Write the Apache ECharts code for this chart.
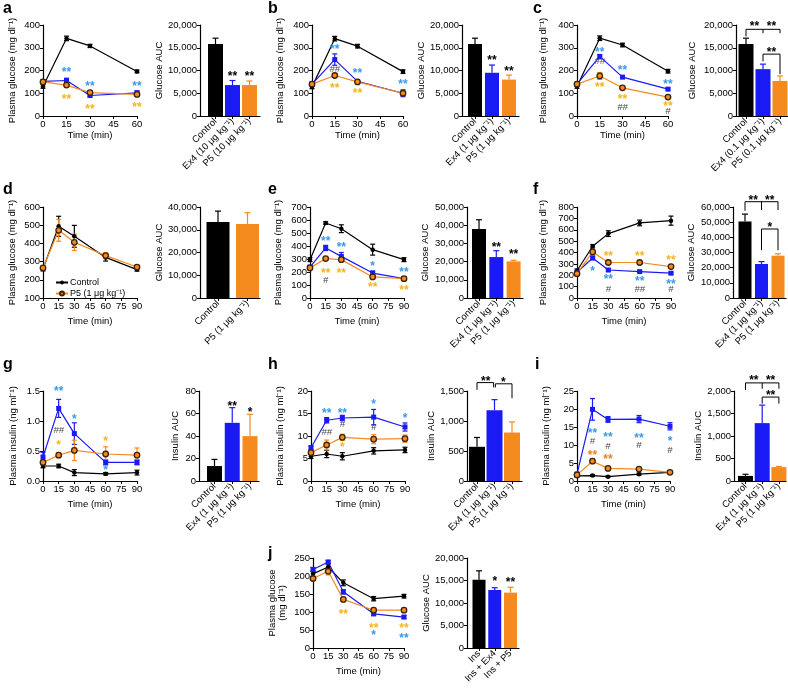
<!DOCTYPE html>
<html><head><meta charset="utf-8">
<script src="https://cdn.jsdelivr.net/npm/echarts@6/dist/echarts.min.js"></script>
<style>html,body{margin:0;padding:0;background:#fff}#main{width:788px;height:688px}</style>
</head><body><div id="main"></div>
<script>
// ================= DATA =================
const times60 = [0, 15, 30, 60];
const times90 = [0, 15, 30, 60, 90];

const catsA = ['Control', 'Ex4 (10 μg kg⁻¹)', 'P5 (10 μg kg⁻¹)'];
const catsB = ['Control', 'Ex4 (1 μg kg⁻¹)', 'P5 (1 μg kg⁻¹)'];
const catsC = ['Control', 'Ex4 (0.1 μg kg⁻¹)', 'P5 (0.1 μg kg⁻¹)'];
const catsD = ['Control', 'P5 (1 μg kg⁻¹)'];
const catsJ = ['Ins', 'Ins + Ex4', 'Ins + P5'];

// panel a
const aCtrl = [130, 341, 308, 196], aCtrlErr = [8, 10, 7, 6];
const aEx4 = [152, 156, 90, 102], aEx4Err = [5, 10, 6, 8];
const aP5 = [150, 136, 103, 95], aP5Err = [5, 10, 6, 5];
const aBar = [15800, 6800, 6800], aBarErr = [1300, 1000, 900];
const aStars = [[15, 202, '**', 'ex4'], [30, 143, '**', 'ex4'], [60, 141, '**', 'ex4'],
                [15, 85, '**', 'p5'], [30, 41, '**', 'p5'], [60, 48, '**', 'p5']];
const aBarStars = [[1, 9300, '**', 'blk'], [2, 9200, '**', 'blk']];

// panel b
const bCtrl = [128, 340, 307, 195], bCtrlErr = [8, 10, 8, 8];
const bEx4 = [140, 248, 152, 100], bEx4Err = [8, 25, 8, 15];
const bP5 = [140, 178, 150, 100], bP5Err = [5, 8, 8, 8];
const bBar = [15800, 9500, 8000], bBarErr = [1300, 1700, 1000];
const bStars = [[15, 305, '**', 'ex4'], [30, 198, '**', 'ex4'], [60, 151, '**', 'ex4'],
                [15, 132, '**', 'p5'], [30, 111, '**', 'p5'], [15, 205, '##', 'hash']];
const bBarStars = [[1, 12900, '**', 'blk'], [2, 10500, '**', 'blk']];

// panel c
const cCtrl = [130, 342, 312, 197], cCtrlErr = [8, 10, 8, 8];
const cEx4 = [140, 262, 171, 118], cEx4Err = [5, 8, 6, 5];
const cP5 = [140, 176, 124, 83], cP5Err = [5, 15, 6, 6];
const cBar = [15800, 10300, 7700], cBarErr = [1300, 1100, 1100];
const cStars = [[15, 290, '**', 'ex4'], [30, 212, '**', 'ex4'], [60, 151, '**', 'ex4'],
                [15, 136, '**', 'p5'], [30, 85, '**', 'p5'], [60, 53, '**', 'p5'],
                [15, 239, '##', 'hash'], [30, 38, '##', 'hash'], [60, 19, '#', 'hash']];
const cBarStars = [[0.5, 20300, '**', 'blk'], [1.5, 20300, '**', 'blk'], [1.5, 14500, '**', 'blk']];
const cBrackets = [[[0, 17500], [0, 19050], [2, 19050], [2, 18200]], [[1, 19050], [1, 18200]],
                   [[1, 12000], [1, 13600], [2, 13600], [2, 9200]]];

// panel d
const dCtrl = [259, 494, 439, 323, 256], dCtrlErr = [10, 55, 60, 20, 8];
const dP5 = [265, 472, 406, 333, 270], dP5Err = [8, 60, 45, 15, 8];
const dBar = [33400, 32500], dBarErr = [4800, 5000];

// panel e
const eCtrl = [295, 577, 533, 372, 295], eCtrlErr = [15, 10, 30, 42, 15];
const eEx4 = [238, 385, 320, 192, 149], eEx4Err = [12, 20, 30, 15, 10];
const eP5 = [231, 303, 295, 162, 149], eP5Err = [10, 10, 10, 8, 8];
const eBar = [37900, 22500, 20100], eBarErr = [5100, 3500, 600];
const eStars = [[15, 454, '**', 'ex4'], [30, 410, '**', 'ex4'], [60, 262, '*', 'ex4'], [90, 218, '**', 'ex4'],
                [15, 213, '**', 'p5'], [30, 213, '**', 'p5'], [60, 103, '**', 'p5'], [90, 77, '**', 'p5'],
                [15, 136, '#', 'hash']];
const eBarStars = [[1, 29500, '**', 'blk'], [2, 25200, '**', 'blk']];

// panel f
const fCtrl = [240, 455, 566, 660, 680], fCtrlErr = [15, 15, 25, 25, 40];
const fEx4 = [226, 352, 246, 232, 218], fEx4Err = [10, 15, 10, 8, 8];
const fP5 = [214, 405, 312, 312, 276], fP5Err = [10, 15, 12, 10, 10];
const fBar = [50500, 22400, 27900], fBarErr = [4800, 1600, 1300];
const fStars = [[30, 390, '**', 'p5'], [60, 390, '**', 'p5'], [90, 357, '**', 'p5'],
                [15, 255, '*', 'ex4'], [30, 185, '**', 'ex4'], [60, 167, '**', 'ex4'], [90, 147, '**', 'ex4'],
                [30, 73, '#', 'hash'], [60, 73, '##', 'hash'], [90, 73, '#', 'hash']];
const fBarStars = [[0.5, 66300, '**', 'blk'], [1.5, 66300, '**', 'blk'], [1.5, 48500, '*', 'blk']];
const fBrackets = [[[0, 57500], [0, 63500], [2, 63500], [2, 58000]], [[1, 63500], [1, 58000]],
                   [[1, 31500], [1, 45500], [2, 45500], [2, 31500]]];

// panel g
const gCtrl = [0.25, 0.25, 0.14, 0.12, 0.14], gCtrlErr = [0.03, 0.03, 0.05, 0.02, 0.04];
const gEx4 = [0.40, 1.21, 0.79, 0.31, 0.31], gEx4Err = [0.08, 0.15, 0.18, 0.04, 0.04];
const gP5 = [0.31, 0.43, 0.51, 0.45, 0.43], gP5Err = [0.04, 0.04, 0.17, 0.12, 0.12];
const gBar = [13.3, 51.7, 39.9], gBarErr = [5.9, 13.5, 19.4];
const gStars = [[15, 1.54, '**', 'ex4'], [30, 1.07, '*', 'ex4'], [60, 0.23, '*', 'ex4'],
                [15, 0.64, '*', 'p5'], [60, 0.71, '*', 'p5'], [15, 0.85, '##', 'hash']];
const gBarStars = [[1, 69, '**', 'blk'], [2, 63, '*', 'blk']];

// panel h
const hCtrl = [5.5, 6.0, 5.5, 6.7, 6.9], hCtrlErr = [0.5, 0.8, 0.8, 0.7, 0.6];
const hEx4 = [7.4, 13.5, 14.0, 14.2, 12.0], hEx4Err = [0.4, 0.6, 0.6, 1.7, 0.9];
const hP5 = [6.3, 8.0, 9.7, 9.3, 9.4], hP5Err = [0.3, 1.1, 0.7, 1.0, 0.8];
const hBar = [570, 1179, 808], hBarErr = [155, 177, 177];
const hStars = [[15, 15.7, '**', 'ex4'], [30, 15.7, '**', 'ex4'], [60, 17.6, '*', 'ex4'], [90, 14.6, '*', 'ex4'],
                [30, 8.0, '*', 'p5'], [15, 10.9, '##', 'hash'], [30, 12.6, '#', 'hash'], [60, 11.9, '#', 'hash']];
const hBarStars = [[0.5, 1710, '**', 'blk'], [1.5, 1690, '*', 'blk']];
const hBrackets = [[[0, 1520], [0, 1640], [0.95, 1640], [0.95, 1560]],
                   [[1.05, 1560], [1.05, 1620], [2, 1620], [2, 1380]]];

// panel i
const iCtrl = [1.4, 1.5, 1.2, 1.9, 2.4], iCtrlErr = [0.3, 0.2, 0.2, 0.3, 0.3];
const iEx4 = [1.9, 19.9, 17.1, 17.2, 15.2], iEx4Err = [0.5, 3.0, 0.8, 1.0, 1.0];
const iP5 = [1.7, 5.5, 3.5, 3.3, 2.4], iP5Err = [0.3, 0.6, 0.3, 0.3, 0.2];
const iBar = [113, 1286, 308], iBarErr = [37, 400, 15];
const iStars = [[15, 13.9, '**', 'ex4'], [30, 13.0, '**', 'ex4'], [60, 12.7, '**', 'ex4'], [90, 11.8, '*', 'ex4'],
                [15, 10.9, '#', 'hash'], [30, 9.5, '#', 'hash'], [60, 10.0, '#', 'hash'], [90, 8.6, '#', 'hash'],
                [15, 7.8, '**', 'p5o'], [30, 6.7, '**', 'p5o']];
const iBarStars = [[0.5, 2290, '**', 'blk'], [1.5, 2290, '**', 'blk'], [1.5, 1960, '**', 'blk']];
const iBrackets = [[[0, 2020], [0, 2180], [2, 2180], [2, 2050]], [[1, 2180], [1, 2050]],
                   [[1, 1720], [1, 1865], [2, 1865], [2, 1720]]];

// panel j
const jCtrl = [206, 225, 181, 137, 144], jCtrlErr = [8, 8, 8, 6, 5];
const jEx4 = [218, 239, 156, 95, 86], jEx4Err = [6, 4, 6, 5, 4];
const jP5 = [193, 213, 135, 105, 105], jP5Err = [6, 10, 5, 4, 4];
const jBar = [15150, 12900, 12300], jBarErr = [2000, 500, 1200];
const jStars = [[30, 100, '**', 'p5'], [60, 63, '**', 'p5'], [90, 63, '**', 'p5'],
                [60, 43, '*', 'ex4'], [90, 35, '**', 'ex4']];
const jBarStars = [[1, 15500, '*', 'blk'], [2, 15200, '**', 'blk']];

// ================= STYLE / LAYOUT =================
const FONT = '"Liberation Sans", Arial, Helvetica, sans-serif';
const COLORS = {ctrl: '#000000', ex4: '#1a1af5', p5: '#f58a1f'};
const STAR = {ex4: '#3a9ae8', p5: '#f3b51b', p5o: '#f07f22', hash: '#474747', blk: '#000000'};
const R1 = {top: 25, height: 91}, R2 = {top: 207, height: 91}, R3 = {top: 391, height: 90}, R4 = {top: 558, height: 90};

const chart = echarts.init(document.getElementById('main'));
const grid = [], xAxis = [], yAxis = [], series = [];

function axisBase() {
  return {
    axisLine: {show: true, onZero: false, lineStyle: {color: '#000', width: 1.2}},
    axisTick: {show: true, inside: false, length: 3, lineStyle: {color: '#000', width: 1}},
    splitLine: {show: false},
    nameTextStyle: {color: '#000', fontSize: 9.5, fontFamily: FONT},
  };
}
function labelBase(extra) {
  return Object.assign({color: '#000', fontSize: 9.5, fontFamily: FONT, margin: 3}, extra || {});
}
function addGrid(row, l) {
  grid.push({left: l.left, top: row.top, width: l.width, height: row.height});
  return grid.length - 1;
}
function errSeries(gi, pts, colorFn, twoSided, cap) {
  series.push({
    type: 'custom', xAxisIndex: gi, yAxisIndex: gi, z: 3, silent: true,
    data: pts, encode: {x: 0, y: 1},
    renderItem: (params, api) => {
      const x = api.value(0), y = api.value(1), e = api.value(2);
      const t = api.coord([x, y + e]);
      const b = twoSided ? api.coord([x, y - e]) : api.coord([x, y]);
      const st = {stroke: colorFn(params.dataIndex), lineWidth: 1.2};
      const ch = [
        {type: 'line', shape: {x1: t[0], y1: t[1], x2: b[0], y2: b[1]}, style: st},
        {type: 'line', shape: {x1: t[0] - cap, y1: t[1], x2: t[0] + cap, y2: t[1]}, style: st}
      ];
      if (twoSided) ch.push({type: 'line', shape: {x1: b[0] - cap, y1: b[1], x2: b[0] + cap, y2: b[1]}, style: st});
      return {type: 'group', children: ch};
    }
  });
}
function textSeries(gi, items) {
  series.push({
    type: 'custom', xAxisIndex: gi, yAxisIndex: gi, z: 6, silent: true,
    data: items.map(it => [it[0], it[1]]), encode: {x: 0, y: 1},
    renderItem: (params, api) => {
      const it = items[params.dataIndex];
      const p = api.coord([it[0], it[1]]);
      const hash = it[3] === 'hash';
      return {type: 'text', x: p[0], y: p[1] + (hash ? 0 : 3),
        style: {text: it[2], fill: STAR[it[3]], font: (hash ? 'italic 9.5px ' : 'bold 12px ') + FONT,
                align: 'center', verticalAlign: 'middle'}};
    }
  });
}
function bracketSeries(gi, brs) {
  series.push({
    type: 'custom', xAxisIndex: gi, yAxisIndex: gi, z: 6, silent: true,
    data: brs.map(b => b[0]), encode: {x: 0, y: 1},
    renderItem: (params, api) => ({
      type: 'polyline', shape: {points: brs[params.dataIndex].map(p => api.coord(p))},
      style: {stroke: '#000', lineWidth: 1, fill: null}
    })
  });
}
const SYM = {
  ctrl: {symbol: 'circle', symbolSize: 4.5, itemStyle: {color: '#000'}},
  ex4: {symbol: 'rect', symbolSize: 5, itemStyle: {color: COLORS.ex4}},
  p5: {symbol: 'circle', symbolSize: 5.5, itemStyle: {color: COLORS.p5, borderColor: '#3a2308', borderWidth: 1.3}}
};
function linePanel(row, L, times, groups, yc, yName, stars) {
  const gi = addGrid(row, L);
  xAxis.push(Object.assign(axisBase(), {
    type: 'value', gridIndex: gi, min: 0, max: times[times.length - 1], interval: 15,
    name: 'Time (min)', nameLocation: 'middle', nameGap: L.xGap, axisLabel: labelBase()
  }));
  yAxis.push(Object.assign(axisBase(), {
    type: 'value', gridIndex: gi, min: yc.min, max: yc.max, interval: yc.interval,
    name: yName, nameLocation: 'middle', nameGap: L.yGap,
    axisLabel: labelBase({formatter: v => yc.dec ? v.toFixed(yc.dec) : String(v)})
  }));
  groups.forEach(g => {
    series.push(Object.assign({
      type: 'line', name: g.name, xAxisIndex: gi, yAxisIndex: gi, z: 4,
      data: times.map((t, i) => [t, g.vals[i]]),
      lineStyle: {color: COLORS[g.kind], width: 1.2}
    }, SYM[g.kind]));
    errSeries(gi, times.map((t, i) => [t, g.vals[i], g.errs[i]]), () => COLORS[g.kind], true, 2.5);
  });
  if (stars) textSeries(gi, stars);
}
function barPanel(row, L, cats, vals, errs, kinds, yc, yName, stars, brackets) {
  const gi = addGrid(row, L);
  const xMin = -(L.c0 - L.left) / L.sp, xMax = xMin + L.width / L.sp;
  const idx = cats.map((c, i) => i);
  xAxis.push(Object.assign(axisBase(), {
    type: 'value', gridIndex: gi, min: xMin, max: xMax,
    axisTick: {show: true, length: 3, customValues: idx, lineStyle: {color: '#000', width: 1}},
    axisLabel: labelBase({customValues: idx, rotate: 45, margin: 4, formatter: v => cats[Math.round(v)] || ''})
  }));
  yAxis.push(Object.assign(axisBase(), {
    type: 'value', gridIndex: gi, min: 0, max: yc.max, interval: yc.interval,
    name: yName, nameLocation: 'middle', nameGap: L.yGap,
    axisLabel: labelBase({formatter: v => v.toLocaleString('en-US')})
  }));
  series.push({
    type: 'bar', xAxisIndex: gi, yAxisIndex: gi, barWidth: L.bw, z: 2,
    data: vals.map((v, i) => ({value: [i, v], itemStyle: {color: COLORS[kinds[i]]}}))
  });
  errSeries(gi, vals.map((v, i) => [i, v, errs[i]]), i => kinds[i] === 'ctrl' ? '#000' : COLORS[kinds[i]], false, 3);
  if (stars) textSeries(gi, stars);
  if (brackets) bracketSeries(gi, brackets);
}
const grp = (name, kind, vals, errs) => ({name, kind, vals, errs});
const K3 = ['ctrl', 'ex4', 'p5'];
const GLU = 'Plasma glucose (mg dl⁻¹)', INS = 'Plasma insulin (ng ml⁻¹)';

// Row 1
linePanel(R1, {left: 43, width: 94, xGap: 12, yGap: 26}, times60,
  [grp('a-c', 'ctrl', aCtrl, aCtrlErr), grp('a-e', 'ex4', aEx4, aEx4Err), grp('a-p', 'p5', aP5, aP5Err)],
  {min: 0, max: 400, interval: 100}, GLU, aStars);
barPanel(R1, {left: 200, width: 60, c0: 215.5, sp: 17, bw: 15, yGap: 36}, catsA, aBar, aBarErr, K3,
  {max: 20000, interval: 5000}, 'Glucose AUC', aBarStars);
linePanel(R1, {left: 312, width: 91, xGap: 12, yGap: 27}, times60,
  [grp('b-c', 'ctrl', bCtrl, bCtrlErr), grp('b-e', 'ex4', bEx4, bEx4Err), grp('b-p', 'p5', bP5, bP5Err)],
  {min: 0, max: 400, interval: 100}, GLU, bStars);
barPanel(R1, {left: 462, width: 57, c0: 475, sp: 17, bw: 14, yGap: 35}, catsB, bBar, bBarErr, K3,
  {max: 20000, interval: 5000}, 'Glucose AUC', bBarStars);
linePanel(R1, {left: 577, width: 91, xGap: 12, yGap: 29}, times60,
  [grp('c-c', 'ctrl', cCtrl, cCtrlErr), grp('c-e', 'ex4', cEx4, cEx4Err), grp('c-p', 'p5', cP5, cP5Err)],
  {min: 0, max: 400, interval: 100}, GLU, cStars);
barPanel(R1, {left: 736, width: 52, c0: 746, sp: 17, bw: 15, yGap: 39}, catsC, cBar, cBarErr, K3,
  {max: 20000, interval: 5000}, 'Glucose AUC', cBarStars, cBrackets);

// Row 2
linePanel(R2, {left: 43, width: 94, xGap: 18, yGap: 26}, times90,
  [grp('Control', 'ctrl', dCtrl, dCtrlErr), grp('P5 (1 μg kg⁻¹)', 'p5', dP5, dP5Err)],
  {min: 100, max: 600, interval: 100}, GLU, null);
barPanel(R2, {left: 200, width: 60, c0: 218, sp: 29.5, bw: 23, yGap: 36}, catsD, dBar, dBarErr, ['ctrl', 'p5'],
  {max: 40000, interval: 10000}, 'Glucose AUC', null);
linePanel(R2, {left: 310, width: 94, xGap: 18, yGap: 27}, times90,
  [grp('e-c', 'ctrl', eCtrl, eCtrlErr), grp('e-e', 'ex4', eEx4, eEx4Err), grp('e-p', 'p5', eP5, eP5Err)],
  {min: 0, max: 700, interval: 100}, GLU, eStars);
barPanel(R2, {left: 467, width: 56, c0: 479, sp: 17.3, bw: 14, yGap: 37}, catsB, eBar, eBarErr, K3,
  {max: 50000, interval: 10000}, 'Glucose AUC', eBarStars);
linePanel(R2, {left: 577, width: 94, xGap: 18, yGap: 29}, times90,
  [grp('f-c', 'ctrl', fCtrl, fCtrlErr), grp('f-e', 'ex4', fEx4, fEx4Err), grp('f-p', 'p5', fP5, fP5Err)],
  {min: 0, max: 800, interval: 100}, GLU, fStars);
barPanel(R2, {left: 733, width: 53, c0: 745, sp: 16.5, bw: 13, yGap: 37}, catsB, fBar, fBarErr, K3,
  {max: 60000, interval: 10000}, 'Glucose AUC', fBarStars, fBrackets);

// Row 3
linePanel(R3, {left: 43, width: 94, xGap: 18, yGap: 25}, times90,
  [grp('g-c', 'ctrl', gCtrl, gCtrlErr), grp('g-e', 'ex4', gEx4, gEx4Err), grp('g-p', 'p5', gP5, gP5Err)],
  {min: 0, max: 1.5, interval: 0.5, dec: 1}, INS, gStars);
barPanel(R3, {left: 199, width: 60, c0: 214.5, sp: 17.75, bw: 15, yGap: 19}, catsB, gBar, gBarErr, K3,
  {max: 80, interval: 20}, 'Insulin AUC', gBarStars);
linePanel(R3, {left: 311, width: 94, xGap: 18, yGap: 26}, times90,
  [grp('h-c', 'ctrl', hCtrl, hCtrlErr), grp('h-e', 'ex4', hEx4, hEx4Err), grp('h-p', 'p5', hP5, hP5Err)],
  {min: 0, max: 20, interval: 5}, INS, hStars);
barPanel(R3, {left: 467, width: 55, c0: 477, sp: 17.5, bw: 16, yGap: 28}, catsB, hBar, hBarErr, K3,
  {max: 1500, interval: 500}, 'Insulin AUC', hBarStars, hBrackets);
linePanel(R3, {left: 577, width: 93, xGap: 18, yGap: 26}, times90,
  [grp('i-c', 'ctrl', iCtrl, iCtrlErr), grp('i-e', 'ex4', iEx4, iEx4Err), grp('i-p', 'p5', iP5, iP5Err)],
  {min: 0, max: 25, interval: 5}, INS, iStars);
barPanel(R3, {left: 734, width: 52, c0: 745.5, sp: 16.7, bw: 15, yGap: 28}, catsB, iBar, iBarErr, K3,
  {max: 2000, interval: 500}, 'Insulin AUC', iBarStars, iBrackets);

// Row 4
linePanel(R4, {left: 313, width: 91, xGap: 18, yGap: 26}, times90,
  [grp('j-c', 'ctrl', jCtrl, jCtrlErr), grp('j-e', 'ex4', jEx4, jEx4Err), grp('j-p', 'p5', jP5, jP5Err)],
  {min: 0, max: 250, interval: 50}, 'Plasma glucose\n(mg dl⁻¹)', jStars);
barPanel(R4, {left: 467, width: 52, c0: 479, sp: 15.75, bw: 13, yGap: 36}, catsJ, jBar, jBarErr, K3,
  {max: 20000, interval: 5000}, 'Glucose AUC', jBarStars);

const letters = [['a', 3, 10], ['b', 268, 10], ['c', 533, 10], ['d', 3, 191], ['e', 268, 191], ['f', 533, 191],
                 ['g', 3, 366], ['h', 268, 366], ['i', 535, 366], ['j', 268, 555]];

chart.setOption({
  animation: false,
  backgroundColor: '#fff',
  textStyle: {fontFamily: FONT},
  grid, xAxis, yAxis, series,
  legend: {
    data: ['Control', 'P5 (1 μg kg⁻¹)'], orient: 'vertical', left: 50, top: 273,
    itemWidth: 12, itemHeight: 5, itemGap: 2, selectedMode: false,
    textStyle: {fontSize: 9, color: '#000', fontFamily: FONT, padding: [0, 0, 0, -3]}
  },
  graphic: letters.map(l => ({
    type: 'text', left: l[1], top: l[2] - 9,
    style: {text: l[0], font: 'bold 16px ' + FONT, fill: '#000'}
  }))
});
</script></body></html>
